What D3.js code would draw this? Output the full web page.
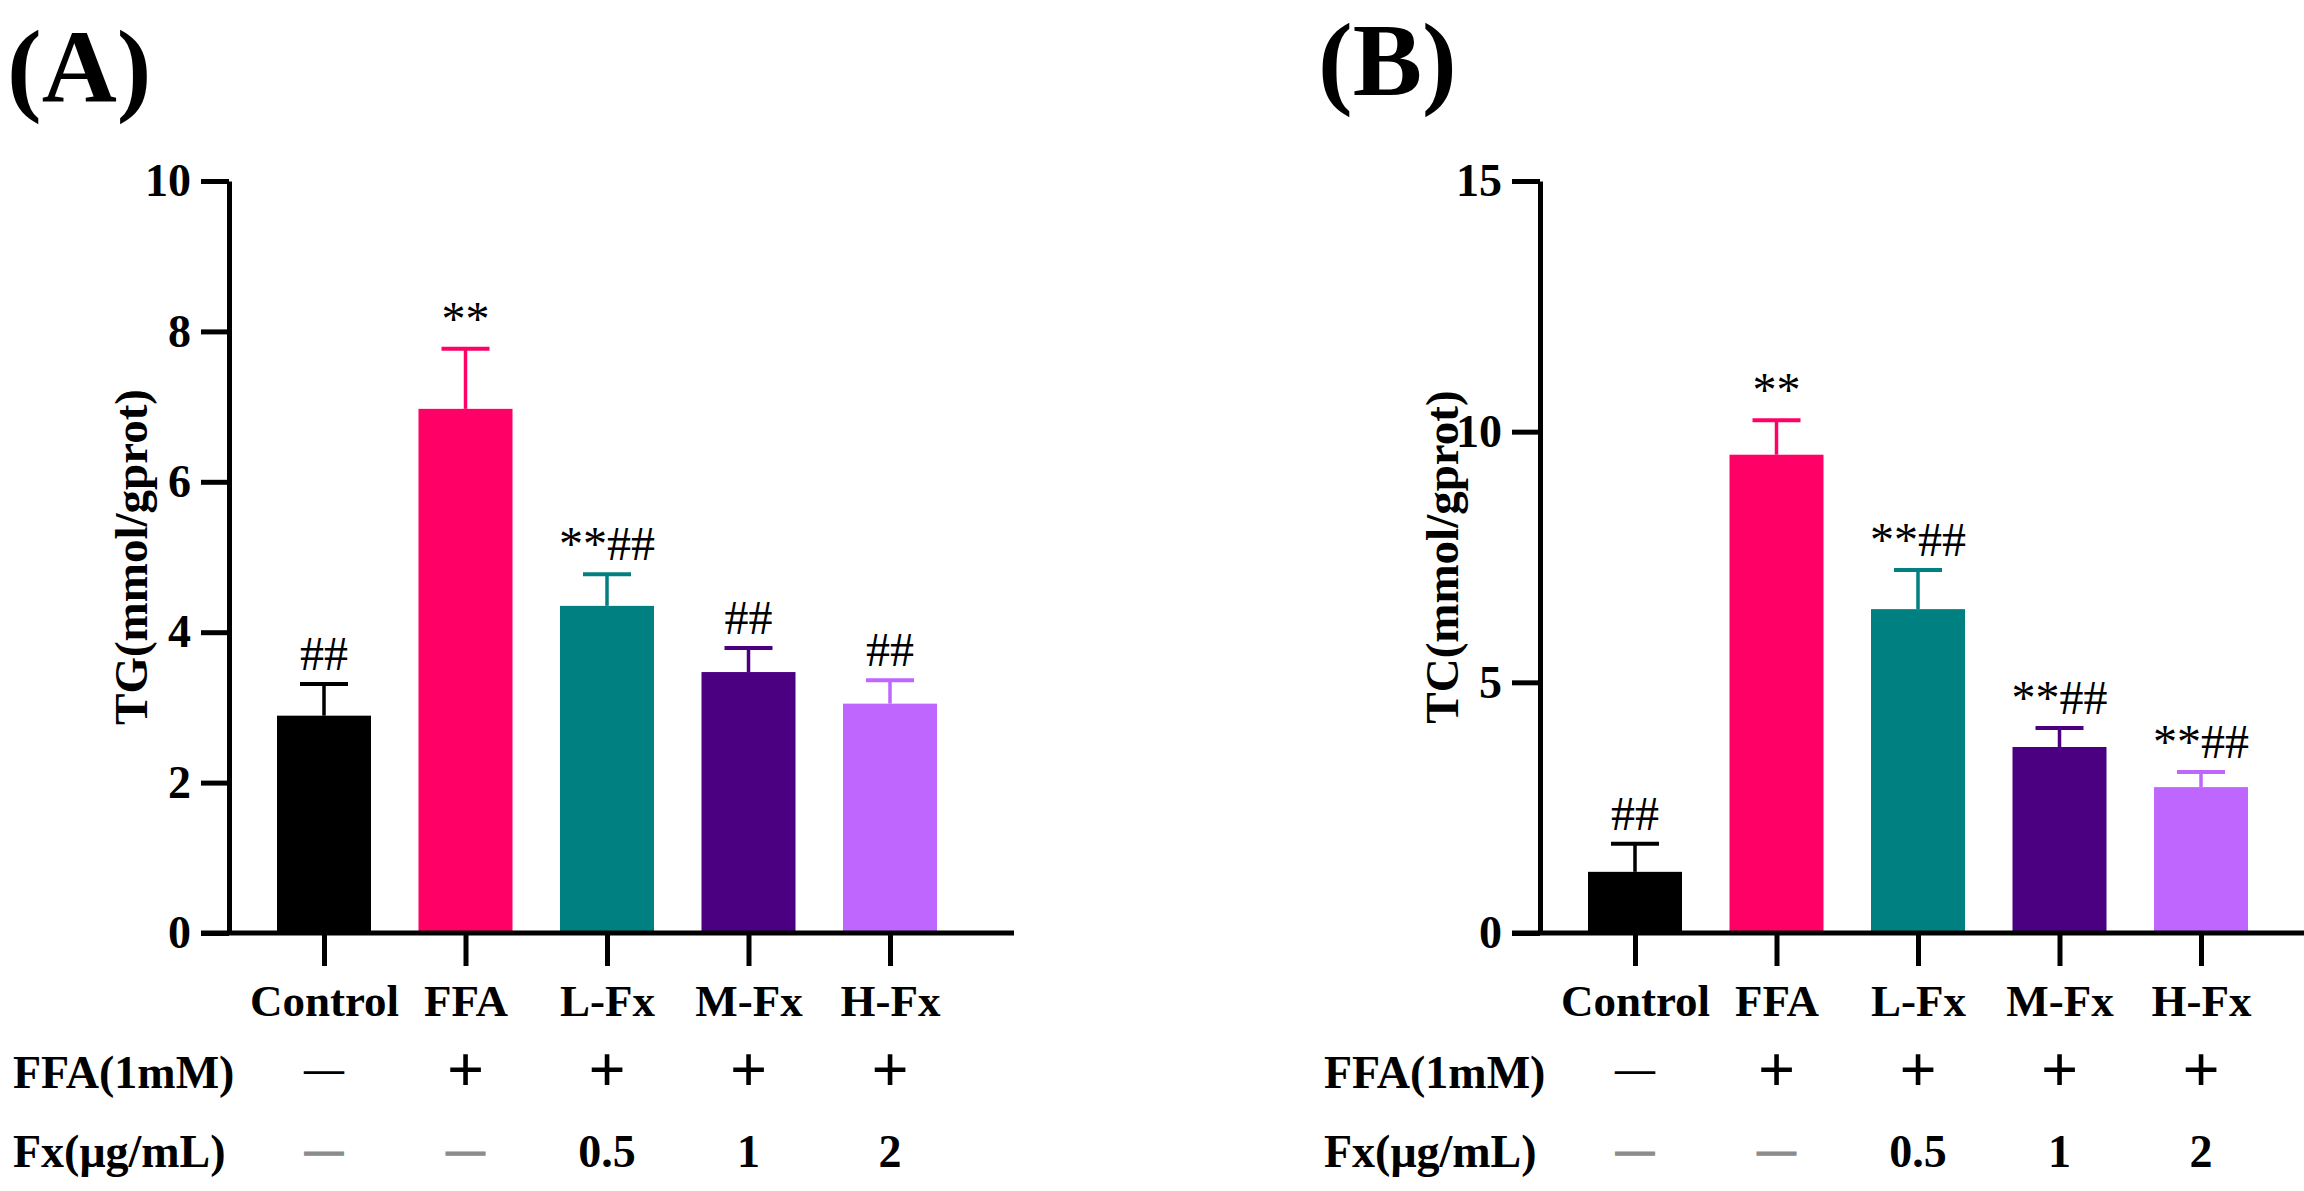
<!DOCTYPE html>
<html lang="en">
<head>
<meta charset="UTF-8">
<title>TG / TC</title>
<style>
  body { margin: 0; background: #fff; }
  text { font-family: "Liberation Serif", "Times New Roman", serif; }
</style>
</head>
<body>
<script src="https://d3js.org/d3.v7.min.js"></script>
<script>
// data
var groups = ['Control', 'FFA', 'L-Fx', 'M-Fx', 'H-Fx'];
var barColors = ['#000000', '#ff0066', '#008080', '#4b0082', '#bf66ff'];

var tgMean = [2.89, 6.97, 4.35, 3.47, 3.05];
var tgSd   = [0.42, 0.80, 0.42, 0.32, 0.31];
var tgSig  = ['##', '**', '**##', '##', '##'];
var tgTicks = [0, 2, 4, 6, 8, 10];

var tcMean = [1.22, 9.54, 6.46, 3.71, 2.91];
var tcSd   = [0.56, 0.69, 0.78, 0.38, 0.30];
var tcSig  = ['##', '**', '**##', '**##', '**##'];
var tcTicks = [0, 5, 10, 15];

var ffaRow = ['\u2014', '+', '+', '+', '+'];
var fxRow  = ['\u2014', '\u2014', '0.5', '1', '2'];

var W = 2304, H = 1191;
var y0 = 933, yTop = 181;
var step = 141.5, barW = 94, capW = 48;

var svg = d3.select('body').append('svg')
    .attr('width', W)
    .attr('height', H);

function drawPanel(ox, means, sds, sig, ticks, yTitle, letter, letterY) {
    var g = svg.append('g');

    var y = d3.scaleLinear()
        .domain([0, ticks[ticks.length - 1]])
        .range([y0, yTop]);
    var x = d3.scalePoint()
        .domain(groups)
        .range([ox + 95, ox + 95 + 4 * step]);

    // bars
    g.selectAll('.bar')
        .data(groups)
        .enter().append('rect')
        .attr('class', 'bar')
        .attr('x', d => x(d) - barW / 2)
        .attr('width', barW)
        .attr('y', (d, i) => y(means[i]))
        .attr('height', (d, i) => y0 - y(means[i]))
        .style('fill', (d, i) => barColors[i]);

    // error bars (upper only)
    var err = g.selectAll('.err')
        .data(groups)
        .enter().append('g')
        .attr('class', 'err')
        .style('stroke', (d, i) => barColors[i]);

    err.append('line')
        .attr('x1', d => x(d)).attr('x2', d => x(d))
        .attr('y1', (d, i) => y(means[i]))
        .attr('y2', (d, i) => y(means[i] + sds[i]))
        .style('stroke-width', 3.5);

    err.append('line')
        .attr('x1', d => x(d) - capW / 2).attr('x2', d => x(d) + capW / 2)
        .attr('y1', (d, i) => y(means[i] + sds[i]))
        .attr('y2', (d, i) => y(means[i] + sds[i]))
        .style('stroke-width', 4);

    // significance marks
    g.selectAll('.sig')
        .data(groups)
        .enter().append('text')
        .attr('class', 'sig')
        .text((d, i) => sig[i])
        .attr('text-anchor', 'middle')
        .attr('x', d => x(d))
        .attr('y', (d, i) => y(means[i] + sds[i]) - 14)
        .style('font-size', '48px');

    // y axis
    var ya = g.append('g')
        .attr('transform', `translate(${ox},0)`)
        .call(d3.axisLeft(y).tickValues(ticks).tickSize(28).tickPadding(10).tickSizeOuter(0));
    ya.select('.domain').style('stroke-width', 5);
    ya.selectAll('.tick line').style('stroke-width', 5);
    ya.selectAll('.tick text')
        .style('font-family', '"Liberation Serif", serif')
        .style('font-size', '46px')
        .style('font-weight', 'bold')
        .attr('fill', '#000');

    // x axis
    g.append('line')
        .attr('x1', ox - 28).attr('x2', ox + 785)
        .attr('y1', y0).attr('y2', y0)
        .style('stroke', '#000')
        .style('stroke-width', 5);

    var xa = g.append('g')
        .attr('transform', `translate(0,${y0})`)
        .call(d3.axisBottom(x).tickSize(33).tickPadding(18).tickSizeOuter(0));
    xa.select('.domain').remove();
    xa.selectAll('.tick line').style('stroke-width', 5);
    xa.selectAll('.tick text')
        .style('font-family', '"Liberation Serif", serif')
        .style('font-size', '45px')
        .style('font-weight', 'bold')
        .attr('fill', '#000');

    // y title
    g.append('text')
        .text(yTitle)
        .attr('text-anchor', 'middle')
        .attr('dominant-baseline', 'central')
        .attr('transform', `translate(${ox - 98},${(y0 + yTop) / 2}) rotate(-90)`)
        .style('font-size', '47px')
        .style('font-weight', 'bold');

    // panel letter
    g.append('text')
        .text(letter)
        .attr('x', ox - 222)
        .attr('y', letterY)
        .style('font-size', '104px')
        .style('font-weight', 'bold');

    // treatment rows
    g.append('text')
        .text('FFA(1mM)')
        .attr('x', ox - 216)
        .attr('y', 1088)
        .style('font-size', '46px')
        .style('font-weight', 'bold');

    g.append('text')
        .text('Fx(\u03bcg/mL)')
        .attr('x', ox - 216)
        .attr('y', 1167)
        .style('font-size', '46px')
        .style('font-weight', 'bold');

    g.selectAll('.ffa')
        .data(groups)
        .enter().append('text')
        .attr('class', 'ffa')
        .text((d, i) => ffaRow[i])
        .attr('text-anchor', 'middle')
        .attr('x', d => x(d))
        .attr('y', (d, i) => ffaRow[i] == '+' ? 1092 : 1082)
        .style('font-size', (d, i) => ffaRow[i] == '+' ? '66px' : '40px')
        .style('font-weight', 'bold');

    g.selectAll('.fx')
        .data(groups)
        .enter().append('text')
        .attr('class', 'fx')
        .text((d, i) => fxRow[i])
        .attr('text-anchor', 'middle')
        .attr('x', d => x(d))
        .attr('y', (d, i) => fxRow[i] == '\u2014' ? 1163 : 1167)
        .style('font-size', (d, i) => fxRow[i] == '\u2014' ? '38px' : '46px')
        .style('font-weight', 'bold')
        .style('fill', (d, i) => fxRow[i] == '\u2014' ? '#8c8c8c' : '#000')
        .style('stroke', (d, i) => fxRow[i] == '\u2014' ? '#8c8c8c' : 'none')
        .style('stroke-width', 1.5);
}

drawPanel(229, tgMean, tgSd, tgSig, tgTicks, 'TG(mmol/gprot)', '(A)', 102);
drawPanel(1540, tcMean, tcSd, tcSig, tcTicks, 'TC(mmol/gprot)', '(B)', 95);
</script>
</body>
</html>
